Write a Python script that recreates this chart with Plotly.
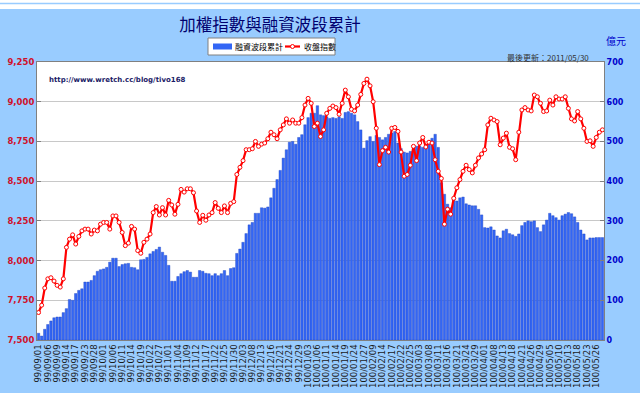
import plotly.graph_objects as go

# ---- data ----
tick_labels = [
    "99/09/01", "99/09/06", "99/09/09", "99/09/14", "99/09/17", "99/09/23", "99/09/28",
    "99/10/01", "99/10/06", "99/10/11", "99/10/14", "99/10/19", "99/10/22", "99/10/27",
    "99/11/01", "99/11/04", "99/11/09", "99/11/12", "99/11/17", "99/11/22", "99/11/25",
    "99/11/30", "99/12/03", "99/12/08", "99/12/13", "99/12/16", "99/12/21", "99/12/24",
    "99/12/29", "100/01/03", "100/01/06", "100/01/11", "100/01/14", "100/01/19",
    "100/01/24", "100/01/27", "100/02/09", "100/02/14", "100/02/17", "100/02/22",
    "100/02/25", "100/03/03", "100/03/08", "100/03/11", "100/03/16", "100/03/21",
    "100/03/24", "100/03/29", "100/04/01", "100/04/08", "100/04/13", "100/04/18",
    "100/04/21", "100/04/26", "100/04/29", "100/05/05", "100/05/10", "100/05/13",
    "100/05/18", "100/05/23", "100/05/26",
]
tick_every = 3  # one label every 3 trading days

margin_finance = [  # 融資波段累計 (億元)
    17, 10, 27, 39, 48, 56, 58, 58, 69, 79,
    102, 100, 117, 125, 129, 146, 146, 150, 162, 173,
    177, 179, 183, 196, 206, 206, 185, 190, 192, 193,
    183, 182, 177, 202, 203, 208, 217, 223, 228, 234,
    221, 213, 188, 148, 148, 160, 167, 172, 175, 171,
    158, 158, 175, 173, 168, 167, 162, 167, 162, 167,
    175, 162, 180, 182, 218, 229, 246, 268, 290, 296,
    319, 319, 333, 332, 335, 358, 382, 404, 427, 458,
    479, 498, 500, 493, 510, 517, 542, 560, 571, 571,
    590, 567, 565, 562, 558, 560, 558, 562, 558, 573,
    575, 571, 567, 550, 529, 483, 502, 512, 500, 515,
    510, 504, 510, 518, 521, 525, 496, 482, 473, 471,
    475, 483, 488, 488, 485, 492, 498, 508, 518, 485,
    396, 367, 342, 333, 357, 350, 358, 360, 343, 340,
    338, 338, 329, 315, 283, 282, 285, 277, 262, 257,
    275, 279, 268, 265, 261, 267, 288, 296, 300, 298,
    300, 283, 273, 290, 302, 319, 313, 308, 302, 313,
    317, 321, 318, 310, 296, 277, 267, 252, 257, 257,
    258, 258, 258,
]

close_index = [  # 收盤指數
    7673, 7719, 7827, 7885, 7892, 7871, 7844, 7833, 7885, 8083,
    8135, 8162, 8104, 8152, 8187, 8198, 8198, 8167, 8192, 8187,
    8229, 8240, 8240, 8198, 8281, 8281, 8240, 8177, 8094, 8110,
    8215, 8198, 8063, 8046, 8115, 8135, 8167, 8302, 8340, 8287,
    8333, 8287, 8379, 8350, 8292, 8354, 8448, 8431, 8452, 8452,
    8427, 8312, 8240, 8285, 8254, 8287, 8302, 8365, 8329, 8302,
    8344, 8302, 8360, 8371, 8542, 8587, 8629, 8698, 8698, 8704,
    8750, 8719, 8733, 8740, 8767, 8808, 8792, 8767, 8823, 8854,
    8892, 8865, 8885, 8865, 8865, 8900, 8979, 9021, 8990, 8844,
    8865, 8781, 8823, 8927, 8958, 8973, 8963, 8921, 8990, 9073,
    9031, 8952, 8942, 8979, 9046, 9115, 9142, 9100, 9000, 8833,
    8604, 8692, 8713, 8683, 8833, 8838, 8813, 8683, 8531, 8542,
    8600, 8719, 8629, 8740, 8775, 8715, 8745, 8740, 8635, 8562,
    8517, 8229, 8323, 8292, 8392, 8458, 8510, 8562, 8600, 8573,
    8552, 8600, 8646, 8671, 8698, 8854, 8896, 8885, 8875, 8729,
    8771, 8802, 8713, 8704, 8635, 8808, 8948, 8963, 8948, 8942,
    9042, 9031, 8990, 8938, 8942, 9010, 8979, 9031, 9017, 9017,
    9031, 8958, 8892, 8879, 8938, 8892, 8833, 8750, 8754, 8719,
    8775, 8808, 8823,
]

left_ticks = [7500, 7750, 8000, 8250, 8500, 8750, 9000, 9250]
right_ticks = [0, 100, 200, 300, 400, 500, 600, 700]
series_names = ["融資波段累計", "收盤指數"]

x = list(range(len(close_index)))
tickvals = [i * tick_every for i in range(len(tick_labels))]

BG = "#99CCFF"
BAR_COLOR = "#3366F5"
LINE_COLOR = "#FF0000"
fig = go.Figure()

fig.add_trace(go.Bar(
    x=x, y=margin_finance, name=series_names[0],
    marker=dict(color=BAR_COLOR, line=dict(color="#1F45C0", width=0.4)),
    yaxis="y", showlegend=False,
))
fig.add_trace(go.Scatter(
    x=x, y=close_index, name=series_names[1], mode="lines+markers",
    line=dict(color=LINE_COLOR, width=2.2),
    marker=dict(symbol="circle", size=4, color="white", line=dict(color=LINE_COLOR, width=1)),
    yaxis="y2", showlegend=False,
))

# pixel helpers for the plot frame (used only for decorations)
L, R, T, B = 37, 36, 62, 53
PW, PH = 640 - L - R, 393 - T - B


def px(xp):
    return (xp - L) / PW


def py(yp):
    return 1 + (T - yp) / PH


fig.update_layout(
    width=640, height=393,
    margin=dict(l=L, r=R, t=T, b=B, autoexpand=False),
    paper_bgcolor=BG, plot_bgcolor="white",
    bargap=0.2,
    showlegend=False,
    title=dict(text="加權指數與融資波段累計", x=px(270), xref="paper", xanchor="center",
               y=1 - 25 / 393, yanchor="middle",
               font=dict(family="Noto Sans CJK TC", size=16.5, color="#00006E")),
    xaxis=dict(range=[-0.5, len(x) - 0.5], tickmode="array", tickvals=tickvals,
               ticktext=tick_labels, tickangle=-90, showgrid=False, automargin=False,
               showline=True, linecolor="#808080", linewidth=1, mirror=True,
               ticks="", tickfont=dict(family="DejaVu Sans", size=8.5, color="#1A1A1A"),
               zeroline=False),
    yaxis=dict(side="right", range=[0, 700], tickvals=right_ticks, automargin=False,
               showgrid=False, zeroline=False, ticks="inside", ticklen=4,
               tickcolor="#808080", showline=True, linecolor="#808080", linewidth=1,
               tickfont=dict(family="DejaVu Sans", size=8, color="#0000CC", weight="bold")),
    yaxis2=dict(side="left", overlaying="y", range=[7500, 9250], tickvals=left_ticks,
                automargin=False,
                tickformat=",", showgrid=True, gridcolor="#C8C8C8", gridwidth=1,
                zeroline=False, ticks="inside", ticklen=4, tickcolor="#808080",
                showline=True, linecolor="#808080", linewidth=1,
                tickfont=dict(family="DejaVu Sans", size=8.5, color="#D0102A", weight="bold")),
)

# hand-drawn legend box (as in the original)
fig.add_shape(type="rect", xref="paper", yref="paper", x0=px(208), x1=px(335), y0=py(55), y1=py(38),
              fillcolor="white", line=dict(color="#808080", width=1))
fig.add_shape(type="rect", xref="paper", yref="paper", x0=px(213), x1=px(232), y0=py(49.5), y1=py(43.5),
              fillcolor=BAR_COLOR, line=dict(width=0))
fig.add_annotation(text=series_names[0], xref="paper", yref="paper", x=px(233), y=py(46.5),
                   xanchor="left", yanchor="middle", showarrow=False,
                   font=dict(family="Noto Sans CJK TC", size=8, color="#000000"))
fig.add_shape(type="line", xref="paper", yref="paper", x0=px(285), x1=px(300), y0=py(46.5), y1=py(46.5),
              line=dict(color=LINE_COLOR, width=2.2))
fig.add_shape(type="circle", xref="paper", yref="paper", x0=px(290.5), x1=px(294.5), y0=py(48.5), y1=py(44.5),
              fillcolor="white", line=dict(color=LINE_COLOR, width=1))
fig.add_annotation(text=series_names[1], xref="paper", yref="paper", x=px(302), y=py(46.5),
                   xanchor="left", yanchor="middle", showarrow=False,
                   font=dict(family="Noto Sans CJK TC", size=8, color="#000000"))

fig.add_annotation(text="億元", xref="paper", yref="paper", x=px(616), y=py(40),
                   xanchor="center", yanchor="middle", showarrow=False,
                   font=dict(family="Noto Sans CJK TC", size=10, color="#0000CC"))
fig.add_annotation(text="最後更新：2011/05/30", xref="paper", yref="paper", x=px(548), y=py(57),
                   xanchor="center", yanchor="middle", showarrow=False,
                   font=dict(family="Noto Sans CJK TC", size=8, color="#333333"))
fig.add_annotation(text="<b>http://www.wretch.cc/blog/tivo168</b>", xref="paper", yref="paper",
                   x=px(47), y=py(80), xanchor="left", yanchor="middle", showarrow=False,
                   font=dict(family="DejaVu Sans", size=7, color="#1A1A66"))

# white strip with thin blue line at the very top of the page
fig.add_shape(type="rect", xref="paper", yref="paper", x0=px(0), x1=px(640), y0=py(9), y1=py(-2),
              fillcolor="white", line=dict(width=0), layer="below")
fig.add_shape(type="line", xref="paper", yref="paper", x0=px(0), x1=px(640), y0=py(3.5), y1=py(3.5),
              line=dict(color=BG, width=1.5), layer="below")

fig.write_html("out.html", config={"displayModeBar": False},
               post_script="document.body.style.margin='0';")
